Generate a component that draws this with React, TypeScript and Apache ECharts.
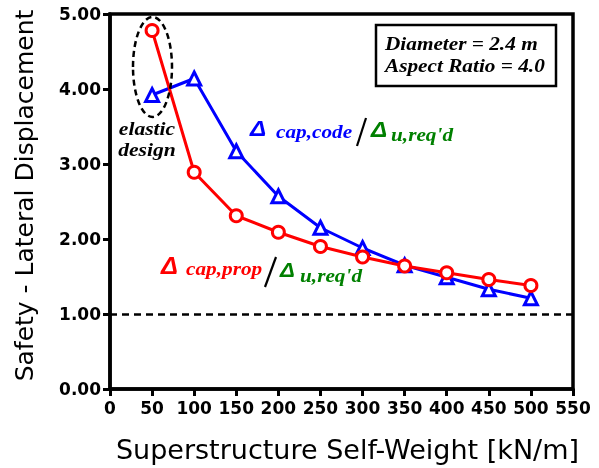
import React, { useEffect, useRef } from "react";
import * as echarts from "echarts";

const xValues = [50, 100, 150, 200, 250, 300, 350, 400, 450, 500];
const codeRatio = [3.92, 4.14, 3.17, 2.57, 2.15, 1.88, 1.65, 1.49, 1.33, 1.21];
const propRatio = [4.78, 2.89, 2.31, 2.09, 1.90, 1.76, 1.64, 1.55, 1.46, 1.38];
const limitValue = 1.0;
const xTitle = "Superstructure Self-Weight [kN/m]";
const yTitle = "Safety - Lateral Displacement";
const infoLines = ["Diameter = 2.4 m", "Aspect Ratio = 4.0"];

const serifBI = (size: number) => `italic bold ${size}px "Liberation Serif", "Times New Roman", serif`;
const sansBI = (size: number) => `italic bold ${size}px "Liberation Sans", Arial, sans-serif`;

export default function App() {
  const ref = useRef<HTMLDivElement>(null);
  useEffect(() => {
    if (!ref.current) return;
    const chart = echarts.init(ref.current, undefined, { renderer: "svg" });
    const blue = "#0000ff";
    const red = "#ff0000";
    const green = "#008000";
    const txt = (text: string, x: number, y: number, font: string, fill: string, align = "left", sx = 1.12) => ({
      type: "text",
      x,
      y,
      scaleX: sx,
      z: 100,
      style: { text, font, fill, align, verticalAlign: "middle" },
    });
    chart.setOption({
      animation: false,
      grid: {
        left: 110,
        right: 26,
        top: 14,
        bottom: 77,
        show: true,
        borderColor: "#000",
        borderWidth: 3.5,
        backgroundColor: "transparent",
      },
      xAxis: {
        type: "value",
        min: 0,
        max: 550,
        interval: 50,
        name: xTitle,
        nameLocation: "middle",
        nameGap: 47,
        nameTextStyle: { fontFamily: "DejaVu Sans", fontSize: 27, color: "#000", padding: [0, 0, 0, 12] },
        axisLine: { show: true, lineStyle: { color: "#000", width: 3.5 } },
        axisTick: { show: true, length: 7, lineStyle: { color: "#000", width: 3 } },
        axisLabel: { margin: 10, fontFamily: "DejaVu Sans", fontWeight: "bold", fontSize: 17, color: "#000" },
        splitLine: { show: false },
      },
      yAxis: {
        type: "value",
        min: 0,
        max: 5,
        interval: 1,
        name: yTitle,
        nameLocation: "middle",
        nameGap: 73,
        nameTextStyle: { fontFamily: "DejaVu Sans", fontSize: 25, color: "#000", padding: [0, 0, 0, 12] },
        axisLine: { show: true, lineStyle: { color: "#000", width: 3.5 } },
        axisTick: { show: true, length: 7, lineStyle: { color: "#000", width: 3 } },
        axisLabel: {
          margin: 9,
          fontFamily: "DejaVu Sans",
          fontWeight: "bold",
          fontSize: 17,
          color: "#000",
          formatter: (v: number) => v.toFixed(2),
        },
        splitLine: { show: false },
      },
      series: [
        {
          name: "code",
          type: "line",
          data: xValues.map((x, i) => [x, codeRatio[i]]),
          symbol: "triangle",
          symbolSize: 13,
          itemStyle: { color: "#fff", borderColor: blue, borderWidth: 3 },
          lineStyle: { color: blue, width: 3 },
          z: 3,
        },
        {
          name: "prop",
          type: "line",
          data: xValues.map((x, i) => [x, propRatio[i]]),
          symbol: "circle",
          symbolSize: 12,
          itemStyle: { color: "#fff", borderColor: red, borderWidth: 3 },
          lineStyle: { color: red, width: 3 },
          z: 4,
          markLine: {
            silent: true,
            symbol: "none",
            label: { show: false },
            lineStyle: { color: "#000", width: 2.5, type: [7, 5] },
            data: [{ yAxis: limitValue }],
          },
        },
      ],
      graphic: [
        {
          type: "rect",
          shape: { x: 376, y: 25, width: 180, height: 61 },
          style: { fill: "#fff", stroke: "#000", lineWidth: 2.5 },
          z: 90,
        },
        txt(infoLines[0], 385, 43.5, serifBI(19), "#000", "left", 1.12),
        txt(infoLines[1], 385, 65.5, serifBI(19), "#000", "left", 1.12),
        {
          type: "ellipse",
          shape: { cx: 152.5, cy: 67, rx: 19.5, ry: 50 },
          style: { fill: "none", stroke: "#000", lineWidth: 2.5, lineDash: [6, 4] },
          z: 90,
        },
        txt("elastic", 147, 128.5, serifBI(18), "#000", "center", 1.2),
        txt("design", 147, 149.5, serifBI(18), "#000", "center", 1.2),
        // code label
        txt("Δ", 250, 128.5, sansBI(23), blue, "left", 1.05),
        txt("cap,code", 276, 131.5, serifBI(19), blue, "left", 1.12),
        {
          type: "line",
          shape: { x1: 366, y1: 118, x2: 357, y2: 146 },
          style: { stroke: "#000", lineWidth: 2.2 },
          z: 100,
        },
        txt("Δ", 371, 129.5, sansBI(23), green, "left", 1.05),
        txt("u,req'd", 391, 134.5, serifBI(19), green, "left", 1.12),
        // prop label
        txt("Δ", 161, 265.8, sansBI(24), red, "left", 1.05),
        txt("cap,prop", 186, 268.5, serifBI(19), red, "left", 1.12),
        {
          type: "line",
          shape: { x1: 276, y1: 257, x2: 265, y2: 287 },
          style: { stroke: "#000", lineWidth: 2.2 },
          z: 100,
        },
        txt("Δ", 280, 270.5, sansBI(21), green, "left", 1.05),
        txt("u,req'd", 300, 275.5, serifBI(19), green, "left", 1.12),
      ],
    });
    return () => chart.dispose();
  }, []);
  return <div ref={ref} style={{ position: "fixed", left: 0, top: 0, width: 599, height: 468 }} />;
}
